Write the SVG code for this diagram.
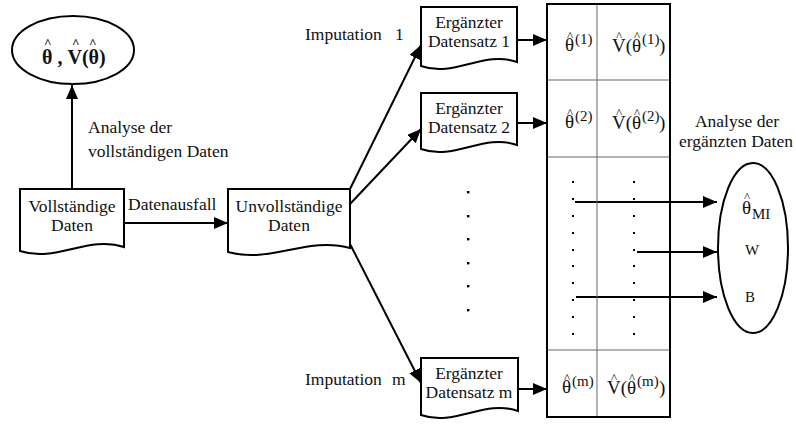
<svg xmlns="http://www.w3.org/2000/svg" width="796" height="427" viewBox="0 0 796 427">
<defs>
<marker id="ah" markerUnits="userSpaceOnUse" markerWidth="14" markerHeight="12" refX="14" refY="6" orient="auto">
<path d="M0,0 L14,6 L0,12 Z" fill="#000"/>
</marker>
<style>
.t{font-family:"Liberation Serif","Times New Roman",serif;font-size:17.5px;fill:#111}
.m{font-family:"Liberation Serif","Times New Roman",serif;font-size:19px;fill:#111}
.s{font-size:15px}
.h{font-size:13px}
.c{text-anchor:middle}
.doc{fill:#fff;stroke:#000;stroke-width:2}
.ln{stroke:#000;stroke-width:2;fill:none;marker-end:url(#ah)}
.grid{stroke:#666;stroke-width:1}
</style>
</defs>
<rect width="796" height="427" fill="#fff"/>

<g id="connectors">
<line class="ln" x1="72" y1="189" x2="72" y2="85"/>
<line class="ln" x1="124" y1="223" x2="228" y2="223"/>
<line class="ln" x1="350" y1="189" x2="421" y2="45"/>
<line class="ln" x1="350" y1="204" x2="421" y2="129"/>
<line class="ln" x1="350" y1="244" x2="421" y2="383"/>
<line class="ln" x1="517" y1="40" x2="547" y2="40"/>
<line class="ln" x1="517" y1="123" x2="547" y2="123"/>
<line class="ln" x1="518" y1="389" x2="547" y2="389"/>
<line class="ln" x1="575" y1="202" x2="717" y2="202"/>
<line class="ln" x1="637" y1="252" x2="717" y2="252"/>
<line class="ln" x1="576" y1="297" x2="717" y2="297"/>
</g>

<g id="labels">
<text class="t" x="88" y="133">Analyse der</text>
<text class="t" x="88" y="157">vollständigen Daten</text>
<text class="t" x="128" y="210">Datenausfall</text>
<text class="t" x="305" y="40">Imputation</text>
<text class="t" x="395" y="40">1</text>
<text class="t" x="305" y="385">Imputation</text>
<text class="t" x="392" y="385">m</text>
<text class="t c" x="737" y="127">Analyse der</text>
<text class="t c" x="736" y="147">ergänzten Daten</text>
</g>

<g id="result-full">
<ellipse cx="73" cy="50" rx="61" ry="34" fill="#fff" stroke="#000" stroke-width="2"/>
<text class="m" style="font-size:20px;font-weight:bold"><tspan x="42" y="64">θ , V(θ)</tspan><tspan class="h" x="44" y="47">^</tspan><tspan class="h" x="72" y="47">^</tspan><tspan class="h" x="89" y="47">^</tspan></text>
</g>

<g id="vollstaendige">
<path class="doc" d="M20,189 H124 V247 C87.6,235 56.4,263 20,251 Z"/>
<text class="t c" x="72" y="212">Vollständige</text>
<text class="t c" x="72" y="231">Daten</text>
</g>

<g id="unvollstaendige">
<path class="doc" d="M228,189 H350 V248 C307.3,236 270.7,264 228,252 Z"/>
<text class="t c" x="289" y="212">Unvollständige</text>
<text class="t c" x="289" y="231">Daten</text>
</g>

<g id="ergaenzt1">
<path class="doc" d="M421,7 H517 V62 C483.4,50 454.6,78 421,66 Z"/>
<text class="t c" x="469" y="28">Ergänzter</text>
<text class="t c" x="469" y="47">Datensatz 1</text>
</g>

<g id="ergaenzt2">
<path class="doc" d="M421,93 H517 V145 C483.4,133 454.6,161 421,149 Z"/>
<text class="t c" x="469" y="114">Ergänzter</text>
<text class="t c" x="469" y="133">Datensatz 2</text>
</g>

<g id="ergaenztm">
<path class="doc" d="M421,358 H518 V411 C484,399 455,427 421,415 Z"/>
<text class="t c" x="469" y="379">Ergänzter</text>
<text class="t c" x="469" y="398">Datensatz m</text>
</g>

<g id="middle-dots" fill="#000">
<rect x="467" y="191" width="2.4" height="2.4"/>
<rect x="467" y="215" width="2.4" height="2.4"/>
<rect x="467" y="238" width="2.4" height="2.4"/>
<rect x="467" y="262" width="2.4" height="2.4"/>
<rect x="467" y="285" width="2.4" height="2.4"/>
<rect x="467" y="309" width="2.4" height="2.4"/>
</g>

<g id="table">
<line class="grid" x1="597" y1="4" x2="597" y2="417"/>
<line class="grid" x1="547" y1="80" x2="670" y2="80"/>
<line class="grid" x1="547" y1="157" x2="670" y2="157"/>
<line class="grid" x1="547" y1="350" x2="670" y2="350"/>
<rect x="547" y="4" width="123" height="413" fill="none" stroke="#000" stroke-width="2"/>
<g fill="#000">
<rect x="572" y="181" width="2" height="2"/><rect x="633" y="181" width="2" height="2"/>
<rect x="572" y="198" width="2" height="2"/><rect x="633" y="198" width="2" height="2"/>
<rect x="572" y="215" width="2" height="2"/><rect x="633" y="215" width="2" height="2"/>
<rect x="572" y="232" width="2" height="2"/><rect x="633" y="232" width="2" height="2"/>
<rect x="572" y="249" width="2" height="2"/><rect x="633" y="249" width="2" height="2"/>
<rect x="572" y="265" width="2" height="2"/><rect x="633" y="265" width="2" height="2"/>
<rect x="572" y="282" width="2" height="2"/><rect x="633" y="282" width="2" height="2"/>
<rect x="572" y="299" width="2" height="2"/><rect x="633" y="299" width="2" height="2"/>
<rect x="572" y="316" width="2" height="2"/><rect x="633" y="316" width="2" height="2"/>
<rect x="572" y="333" width="2" height="2"/><rect x="633" y="333" width="2" height="2"/>
</g>
<text class="m"><tspan x="565" y="51">θ</tspan><tspan class="s" x="575" y="44">(1)</tspan><tspan class="h" x="567" y="40">^</tspan></text>
<text class="m"><tspan x="612" y="52">V(θ</tspan><tspan class="s" x="642" y="44">(1)</tspan><tspan x="659" y="52">)</tspan><tspan class="h" x="616" y="40">^</tspan><tspan class="h" x="634" y="40">^</tspan></text>
<text class="m"><tspan x="565" y="128">θ</tspan><tspan class="s" x="575" y="121">(2)</tspan><tspan class="h" x="567" y="117">^</tspan></text>
<text class="m"><tspan x="612" y="129">V(θ</tspan><tspan class="s" x="642" y="121">(2)</tspan><tspan x="659" y="129">)</tspan><tspan class="h" x="616" y="117">^</tspan><tspan class="h" x="634" y="117">^</tspan></text>
<text class="m"><tspan x="562" y="393">θ</tspan><tspan class="s" x="572" y="386">(m)</tspan><tspan class="h" x="564" y="382">^</tspan></text>
<text class="m"><tspan x="607" y="394">V(θ</tspan><tspan class="s" x="637" y="386">(m)</tspan><tspan x="659" y="394">)</tspan><tspan class="h" x="611" y="382">^</tspan><tspan class="h" x="629" y="382">^</tspan></text>
</g>

<g id="result-mi">
<ellipse cx="753" cy="248" rx="35" ry="85" fill="none" stroke="#000" stroke-width="2"/>
<text class="m"><tspan x="742" y="214">θ</tspan><tspan class="s" x="752" y="219">MI</tspan><tspan class="h" x="744" y="201">^</tspan></text>
<text class="t" x="745" y="255" style="font-size:15px">W</text>
<text class="t" x="745" y="302" style="font-size:15px">B</text>
</g>
</svg>
